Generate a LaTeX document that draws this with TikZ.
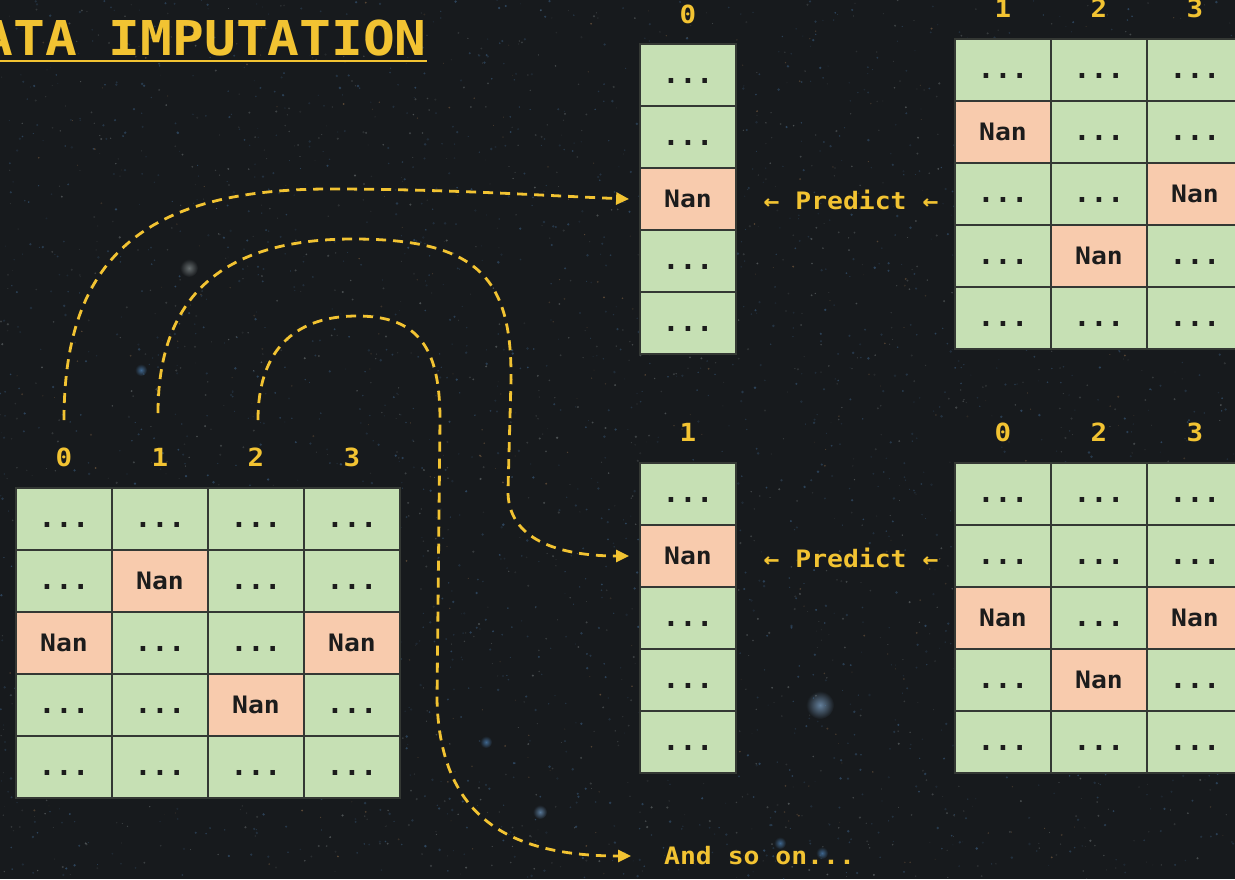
\documentclass[tikz,border=0pt]{standalone}
\usepackage{fontspec}
\usetikzlibrary{arrows.meta,calc}
\newfontfamily\monofam{DejaVu Sans Mono}[FakeStretch=1.1]
\newfontfamily\dotfam{DejaVu Sans Mono}
\definecolor{bg}{RGB}{23,26,29}
\definecolor{gold}{RGB}{242,195,50}
\definecolor{okfill}{RGB}{198,224,180}
\definecolor{nanfill}{RGB}{248,203,173}
\definecolor{gridline}{RGB}{52,56,52}
\definecolor{ink}{RGB}{28,28,28}
\definecolor{starblue}{RGB}{80,135,190}
\definecolor{starwhite}{RGB}{185,195,195}
\definecolor{starwarm}{RGB}{190,140,90}
\newcommand\txtd{{\dotfam\bfseries\fontsize{28}{28}\selectfont...}}
\newcommand\txtn{Nan}
\tikzset{
  cellbase/.style={draw=gridline, line width=1.8pt, minimum width=96pt, minimum height=62pt,
    inner sep=0pt, text height=17pt, text depth=0pt, text=ink,
    font=\monofam\bfseries\fontsize{24}{24}\selectfont},
  celld/.style={cellbase, fill=okfill},
  celln/.style={cellbase, fill=nanfill},
  colhead/.style={text=gold, inner sep=2pt, font=\monofam\bfseries\fontsize{25}{25}\selectfont},
  goldtext/.style={text=gold, inner sep=2pt, font=\monofam\bfseries\fontsize{24}{24}\selectfont},
  flow/.style={draw=gold, line width=2.8pt, dash pattern=on 10pt off 7pt,
    -{Triangle[length=13pt,width=12pt]}},
}
\begin{document}
\begin{tikzpicture}[x=1pt,y=-1pt]
\useasboundingbox (0,0) rectangle (1235,879);
\clip (0,0) rectangle (1235,879);

% night-sky backdrop
\fill[bg] (0,0) rectangle (1235,879);
\foreach \gx/\gy/\gr/\gc in {820/705/14/starblue!70!white, 189/268/9/starwhite!70!bg,
    540/812/7/starblue!80!white, 780/843/6/starblue, 822/853/6/starblue,
    141/370/6/starblue, 486/742/6/starblue, 1120/310/5/starblue}{
  \shade[inner color=\gc, outer color=bg, opacity=0.7] (\gx,\gy) circle[radius=\gr pt];
}
\pgfmathsetseed{4321}
\foreach \i in {1,...,2200}{
  \pgfmathsetmacro\sx{rnd*1235}\pgfmathsetmacro\sy{rnd*879}
  \pgfmathsetmacro\sr{0.5+rnd*0.9}\pgfmathsetmacro\so{0.10+rnd*0.3}
  \fill[starblue, opacity=\so] (\sx,\sy) circle[radius=\sr pt];
}
\foreach \i in {1,...,1500}{
  \pgfmathsetmacro\sx{rnd*1235}\pgfmathsetmacro\sy{rnd*879}
  \pgfmathsetmacro\sr{0.4+rnd*0.8}\pgfmathsetmacro\so{0.08+rnd*0.25}
  \fill[starwhite, opacity=\so] (\sx,\sy) circle[radius=\sr pt];
}
\foreach \i in {1,...,400}{
  \pgfmathsetmacro\sx{rnd*1235}\pgfmathsetmacro\sy{rnd*879}
  \pgfmathsetmacro\sr{0.4+rnd*0.7}\pgfmathsetmacro\so{0.12+rnd*0.3}
  \fill[starwarm, opacity=\so] (\sx,\sy) circle[radius=\sr pt];
}

% title
\node[anchor=base east, inner sep=0pt, text=gold,
  font=\monofam\bfseries\fontsize{48}{48}\selectfont] (title) at (427,55) {DATA IMPUTATION};
\draw[gold, line width=2.2pt] ([yshift=-6pt]title.base west) -- ([yshift=-6pt]title.base east);

% source table with missing values
\foreach \h [count=\c from 0] in {0,1,2,3}
  \node[colhead] (srch-\c) at ({64+96*\c},457) {\h};
\foreach \row [count=\r from 0] in {{d,d,d,d},{d,n,d,d},{n,d,d,n},{d,d,n,d},{d,d,d,d}}{
  \foreach \k [count=\c from 0] in \row
    \node[cell\k] (src-\r-\c) at ({64+96*\c},{519+62*\r}) {\csname txt\k\endcsname};
}

% target column 0 and its predictors
\node[colhead] (tvh) at (688,14) {0};
\foreach \k [count=\r from 0] in {d,d,n,d,d}
  \node[cell\k] (tv-\r) at (688,{75+62*\r}) {\csname txt\k\endcsname};
\foreach \h [count=\c from 0] in {1,2,3}
  \node[colhead] (trh-\c) at ({1003+96*\c},8) {\h};
\foreach \row [count=\r from 0] in {{d,d,d},{n,d,d},{d,d,n},{d,n,d},{d,d,d}}{
  \foreach \k [count=\c from 0] in \row
    \node[cell\k] (tr-\r-\c) at ({1003+96*\c},{70+62*\r}) {\csname txt\k\endcsname};
}
\node[goldtext] (pred-a) at (851,200) {← Predict ←};

% target column 1 and its predictors
\node[colhead] (bvh) at (688,432) {1};
\foreach \k [count=\r from 0] in {d,n,d,d,d}
  \node[cell\k] (bv-\r) at (688,{494+62*\r}) {\csname txt\k\endcsname};
\foreach \h [count=\c from 0] in {0,2,3}
  \node[colhead] (brh-\c) at ({1003+96*\c},432) {\h};
\foreach \row [count=\r from 0] in {{d,d,d},{d,d,d},{n,d,n},{d,n,d},{d,d,d}}{
  \foreach \k [count=\c from 0] in \row
    \node[cell\k] (br-\r-\c) at ({1003+96*\c},{494+62*\r}) {\csname txt\k\endcsname};
}
\node[goldtext] (pred-b) at (851,558) {← Predict ←};

\node[goldtext, anchor=west, inner sep=0pt] (more) at (664,856) {And so on...};

% dashed routes from each source column
\coordinate (s0) at (64,420);
\coordinate (s1) at (158,413);
\coordinate (s2) at (258,420);
\draw[flow] (s0) .. controls (64,258) and (144,189) .. (330,189)
  .. controls (450,189) and (550,196) .. ([xshift=-10pt]tv-2.west);
\draw[flow] (s1) .. controls (158,290) and (230,239) .. (353,239)
  .. controls (480,239) and (512,280) .. (511,380) -- (508,490)
  .. controls (507,540) and (560,556) .. ([xshift=-10pt]bv-1.west);
\draw[flow] (s2) .. controls (258,345) and (300,316) .. (357,316)
  .. controls (420,316) and (440,350) .. (440,420) -- (437,700)
  .. controls (440,810) and (500,856) .. ([xshift=-33pt]more.west);
\end{tikzpicture}
\end{document}
